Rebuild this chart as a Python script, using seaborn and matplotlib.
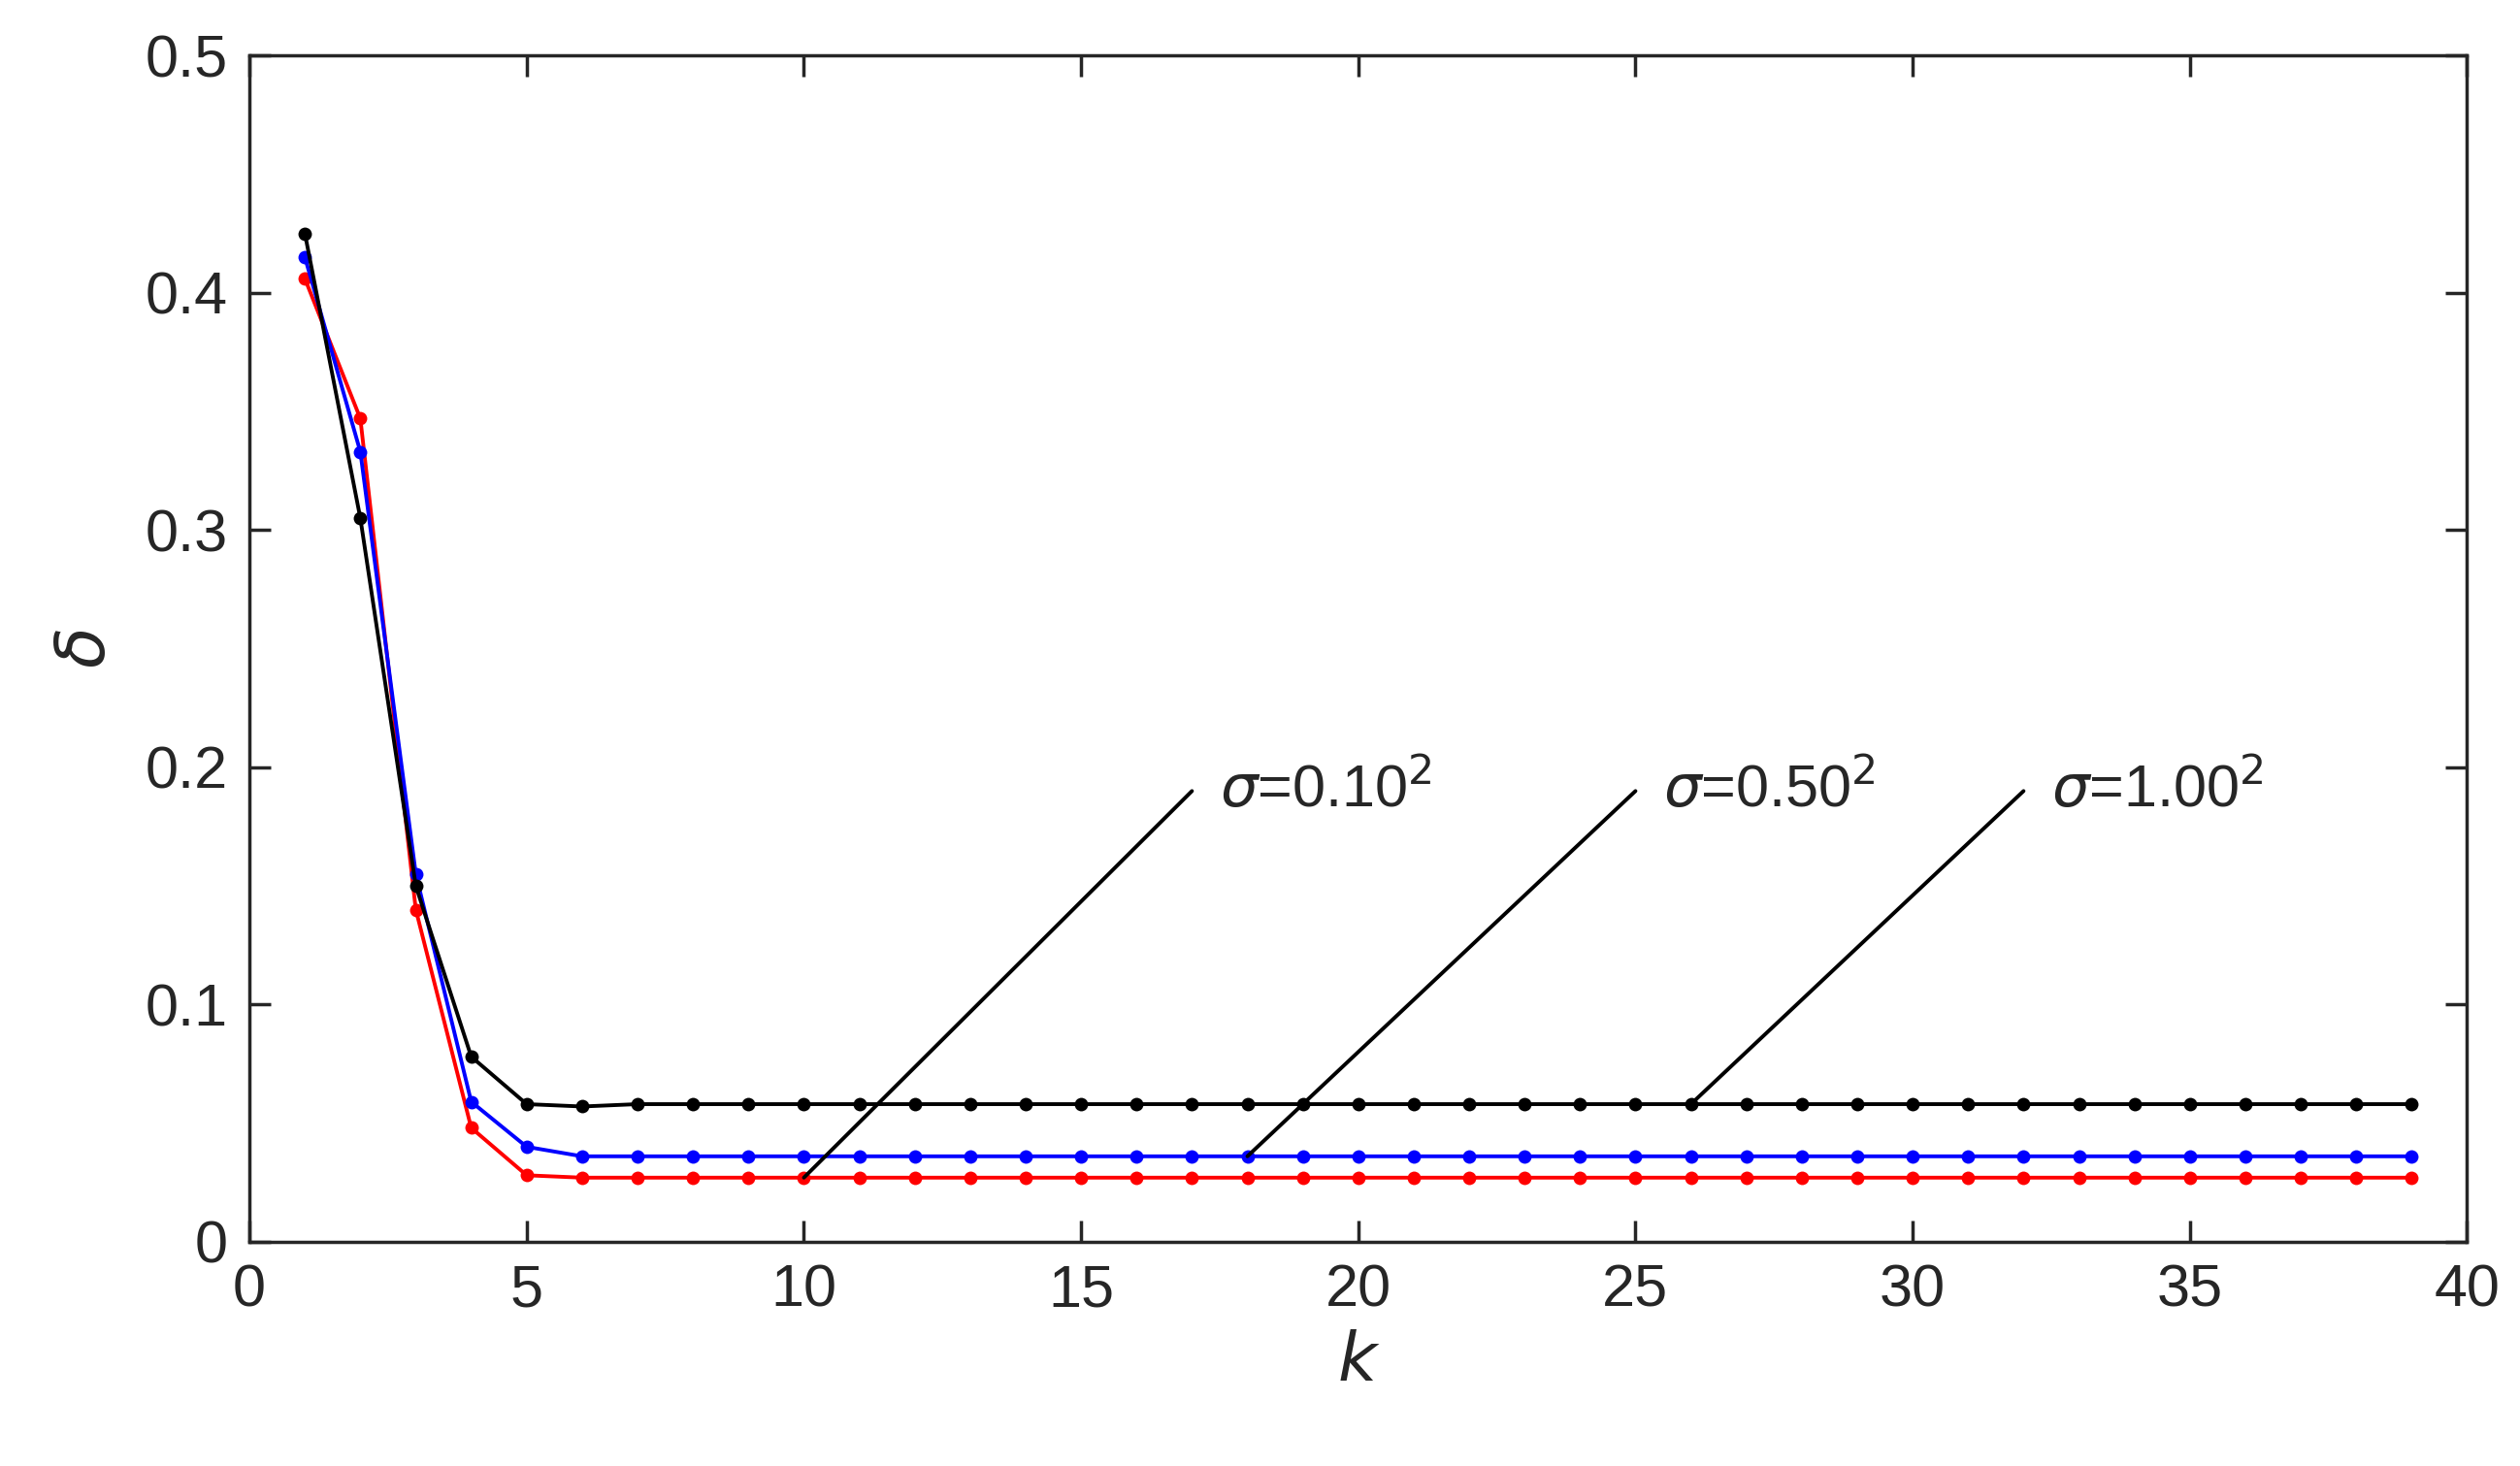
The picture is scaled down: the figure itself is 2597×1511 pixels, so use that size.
import matplotlib
matplotlib.use("Agg")
import matplotlib.pyplot as plt
import seaborn as sns
import numpy as np

k = list(range(1, 40))
black = [0.425, 0.305, 0.150, 0.078, 0.058, 0.057] + [0.058] * 33
blue = [0.415, 0.333, 0.155, 0.059, 0.040, 0.036] + [0.036] * 33
red = [0.406, 0.347, 0.140, 0.048, 0.028, 0.027] + [0.027] * 33
labels = [r"$\sigma$=0.10$^2$", r"$\sigma$=0.50$^2$", r"$\sigma$=1.00$^2$"]
ann_from = [(10, 0.027), (18, 0.036), (26, 0.058)]
ann_to = [(17, 0.19), (25, 0.19), (32, 0.19)]

sns.set_style("ticks")
plt.rcParams['font.family'] = ['Liberation Sans', 'DejaVu Sans']
plt.rcParams['mathtext.fontset'] = 'dejavusans'
fig = plt.figure(figsize=(25.97, 15.11), dpi=100)
ax = fig.add_axes([0.099, 0.153, 0.88, 0.809])
for y, c in [(red, "red"), (blue, "blue"), (black, "black")]:
    sns.lineplot(x=k, y=y, color=c, marker="o", markersize=10, markeredgewidth=0, linewidth=2.8, ax=ax)
for (x0, y0), (x1, y1), t in zip(ann_from, ann_to, labels):
    ax.plot([x0, x1], [y0, y1], color="black", linewidth=2.8)
    ax.text(x1 + 0.5, y1, t, fontsize=44, va="center", ha="left")
ax.set_xlim(0, 40)
ax.set_ylim(0, 0.5)
ax.set_xticks(range(0, 41, 5))
ax.set_yticks([0, 0.1, 0.2, 0.3, 0.4, 0.5])
ax.set_yticklabels(["0", "0.1", "0.2", "0.3", "0.4", "0.5"])
ax.tick_params(labelsize=44, direction="in", length=16, width=2.5, top=True, right=True, pad=16)
for s in ax.spines.values():
    s.set_linewidth(2.5)
ax.set_xlabel(r"$k$", fontsize=50, labelpad=10)
ax.set_ylabel(r"$\delta$", fontsize=50, labelpad=20)
fig.savefig("out.png", dpi=100)
